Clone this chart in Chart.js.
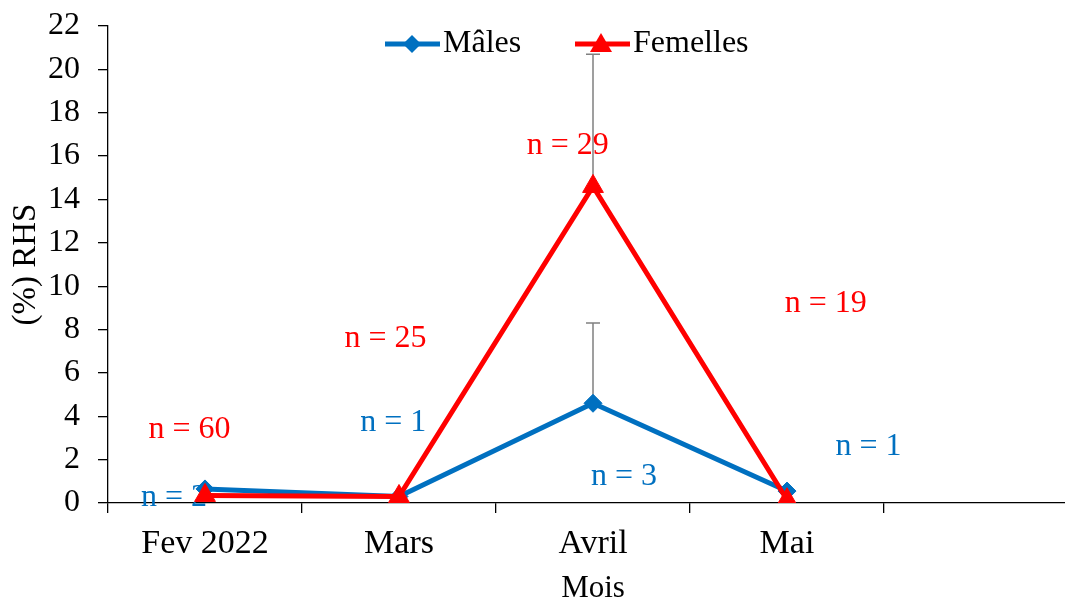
<!DOCTYPE html>
<html>
<head>
<meta charset="utf-8">
<script src="https://cdn.jsdelivr.net/npm/chart.js@4.4.1/dist/chart.umd.min.js"></script>
<style>
    html, body { margin: 0; padding: 0; background: #fff; overflow: hidden; }
    #wrap { width: 1065px; height: 601px; overflow: hidden; position: relative; }
</style>
</head>
<body>
<div id="wrap"><canvas id="plot-data" width="1091" height="610"></canvas></div>
<script>
// data
const months = ['Fev 2022', 'Mars', 'Avril', 'Mai', '']
const males = [0.65, 0.3, 4.6, 0.55]
const femelles = [0.35, 0.3, 14.6, 0.15]
const malesErr = [0, 0, 3.7, 0]
const femellesErr = [0, 0, 6.1, 0]

// "n = .." notes, x in category units, y in % units
const nTexts = ['n = 60', 'n = 2', 'n = 25', 'n = 1', 'n = 29', 'n = 3', 'n = 19', 'n = 1']
const nSeries = ['F', 'M', 'F', 'M', 'F', 'M', 'F', 'M']
const nX = [-0.08, -0.16, 0.93, 0.97, 1.87, 2.16, 3.2, 3.42]
const nY = [3.37, 0.23, 7.6, 3.7, 16.5, 1.2, 9.2, 2.58]

const blue = '#0070C0'
const red = '#FF0000'
const serif = "'Liberation Serif', 'Times New Roman', serif"

const extras = {
    id: 'extras',
    beforeDatasetsDraw(chart) {
        const ctx = chart.ctx
        const xs = chart.scales.x
        const ys = chart.scales.y
        // error bars (upper only)
        ctx.save()
        ctx.strokeStyle = '#808080'
        ctx.lineWidth = 1.5
        const bars = [[males, malesErr], [femelles, femellesErr]]
        bars.forEach(function(b) {
            for (let i = 0; i < b[0].length; i++) {
                if (!b[1][i]) continue
                const x = xs.getPixelForValue(i)
                const y0 = ys.getPixelForValue(b[0][i])
                const y1 = ys.getPixelForValue(b[0][i] + b[1][i])
                ctx.beginPath()
                ctx.moveTo(x, y0)
                ctx.lineTo(x, y1)
                ctx.moveTo(x - 7, y1)
                ctx.lineTo(x + 7, y1)
                ctx.stroke()
            }
        })
        // n labels
        ctx.font = '32px ' + serif
        ctx.textAlign = 'center'
        ctx.textBaseline = 'middle'
        for (let i = 0; i < nTexts.length; i++) {
            ctx.fillStyle = nSeries[i] === 'F' ? red : blue
            ctx.fillText(nTexts[i], xs.getPixelForValue(nX[i]), ys.getPixelForValue(nY[i]))
        }
        ctx.restore()
    },
    afterDraw(chart) {
        // legend: line + marker + text
        const ctx = chart.ctx
        const y = 44
        ctx.save()
        ctx.lineWidth = 5
        ctx.font = '32px ' + serif
        ctx.textBaseline = 'middle'
        ctx.textAlign = 'left'

        let x = 385
        ctx.strokeStyle = blue
        ctx.beginPath(); ctx.moveTo(x, y); ctx.lineTo(x + 55, y); ctx.stroke()
        ctx.fillStyle = blue
        ctx.beginPath()
        ctx.moveTo(x + 27 - 9, y); ctx.lineTo(x + 27, y - 9)
        ctx.lineTo(x + 27 + 9, y); ctx.lineTo(x + 27, y + 9)
        ctx.closePath(); ctx.fill()
        ctx.fillStyle = '#000'
        ctx.fillText('Mâles', x + 58, y)

        x = 575
        ctx.strokeStyle = red
        ctx.beginPath(); ctx.moveTo(x, y); ctx.lineTo(x + 55, y); ctx.stroke()
        ctx.fillStyle = red
        ctx.beginPath()
        ctx.moveTo(x + 26, y - 11); ctx.lineTo(x + 37, y + 8); ctx.lineTo(x + 15, y + 8)
        ctx.closePath(); ctx.fill()
        ctx.fillStyle = '#000'
        ctx.fillText('Femelles', x + 58, y)
        ctx.restore()
    }
}

function noPad(scale) {
    scale.paddingTop = 0
    scale.paddingBottom = 0
    scale.paddingLeft = 0
    scale.paddingRight = 0
}

var ctx = document.getElementById('plot-data').getContext('2d')
var graph = new Chart(ctx, {
    type: 'line',
    data: {
        labels: months,
        datasets: [{
            label: 'Mâles',
            data: males,
            borderColor: blue,
            backgroundColor: blue,
            borderWidth: 5,
            pointStyle: 'rectRot',
            pointRadius: 9,
            pointBorderWidth: 1,
            order: 2
        }, {
            label: 'Femelles',
            data: femelles,
            borderColor: red,
            backgroundColor: red,
            borderWidth: 5,
            pointStyle: 'triangle',
            pointRadius: 12,
            pointBorderWidth: 1,
            order: 1
        }]
    },
    options: {
        responsive: false,
        animation: false,
        layout: { padding: { top: 26, right: 7, left: 0, bottom: 0 } },
        plugins: {
            legend: { display: false },
            tooltip: { enabled: false }
        },
        scales: {
            x: {
                type: 'category',
                offset: true,
                afterFit(scale) { scale.height = 107; noPad(scale) },
                grid: {
                    offset: true,
                    drawOnChartArea: false,
                    color: '#000',
                    tickLength: 10,
                    lineWidth: 1.3
                },
                border: { color: '#000', width: 1.3 },
                ticks: {
                    color: '#000',
                    padding: 11,
                    maxRotation: 0,
                    autoSkip: false,
                    font: { family: serif, size: 34 }
                },
                title: {
                    display: true,
                    text: 'Mois',
                    color: '#000',
                    padding: { top: 0, bottom: 3 },
                    font: { family: serif, size: 31 }
                }
            },
            y: {
                min: 0,
                max: 22,
                afterFit(scale) { scale.width = 108; noPad(scale) },
                grid: {
                    drawOnChartArea: false,
                    color: '#000',
                    tickLength: 10,
                    lineWidth: 1.3
                },
                border: { color: '#000', width: 1.3 },
                ticks: {
                    stepSize: 2,
                    color: '#000',
                    padding: 18,
                    font: { family: serif, size: 32 }
                },
                title: {
                    display: true,
                    text: '(%) RHS',
                    color: '#000',
                    padding: { top: 7, bottom: 0 },
                    font: { family: serif, size: 33 }
                }
            }
        }
    },
    plugins: [extras]
})
</script>
</body>
</html>
